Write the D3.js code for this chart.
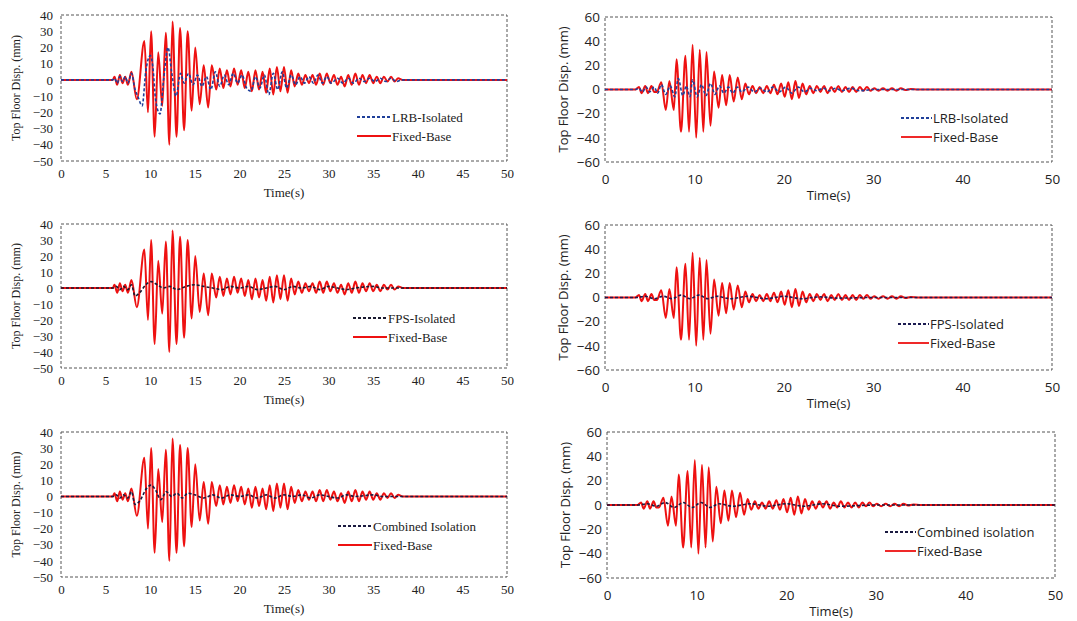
<!DOCTYPE html>
<html>
<head>
<meta charset="utf-8">
<script src="https://cdn.jsdelivr.net/npm/d3@7"></script>
<style>
  body { margin: 0; background: #fff; }
  svg { display: block; }
</style>
</head>
<body>
<div id="chart"></div>
<script>
// tick values
const timeTicksLeft = [0, 5, 10, 15, 20, 25, 30, 35, 40, 45, 50];
const timeTicksRight = [0, 10, 20, 30, 40, 50];
const dispTicksLeft = [40, 30, 20, 10, 0, -10, -20, -30, -40, -50];
const dispTicksRight = [60, 40, 20, 0, -20, -40, -60];

// [time (s), displacement (mm)] - turning points
const fixedLeft = [[0,0],[5.8,0],[6.0,2],[6.3,-3],[6.6,3],[6.9,-2],[7.2,2],[7.5,-3],[7.9,5],[8.5,-12],
  [9.35,24],[9.75,-20],[10.1,30],[10.5,-35],[10.9,17],[11.35,-16],[11.75,29],[12.15,-40],[12.5,36],
  [12.95,-35],[13.35,32],[13.8,-31],[14.2,30],[14.65,-19],[15.05,20],[15.55,-15],[16.0,9],[16.5,-17],
  [16.9,9],[17.4,-6],[17.8,7],[18.2,-5],[18.6,6],[19.0,-4],[19.4,7],[19.8,-3],[20.2,6],[20.6,-5],
  [21.0,5],[21.4,-7],[21.8,6],[22.2,-6],[22.6,5],[23.0,-8],[23.4,7],[23.8,-9],[24.2,8],[24.6,-7],
  [25.0,8],[25.4,-8],[25.8,6],[26.2,-4],[26.6,4],[27.0,-3],[27.4,3],[27.8,-2],[28.2,3],[28.6,-3],
  [29.0,4],[29.4,-3],[29.8,4],[30.2,-2],[30.6,3],[31.0,-3],[31.4,2],[31.8,-4],[32.2,3],[32.6,-3],
  [33.0,4],[33.4,-3],[33.8,3],[34.2,-2],[34.6,3],[35.0,-2],[35.4,2],[35.8,-2],[36.2,2],[36.6,-1],
  [37.0,2],[37.4,-1],[37.8,1],[38.3,0],[50,0]];
const lrbLeft = [[0,0],[5.8,0],[6.0,1],[6.3,-2],[6.6,2],[6.9,-1],[7.2,2],[7.5,-2],[7.9,4],[8.3,-6],
  [8.6,-10],[9.1,-16],[9.5,5],[10.0,15],[10.3,8],[10.6,-12],[11.1,-21],[11.5,0],[12.0,20],[12.4,5],
  [12.9,-10],[13.4,4],[13.8,-2],[14.3,4],[14.8,-3],[15.3,3],[15.8,-4],[16.3,2],[16.8,-6],[17.3,5],
  [17.8,-4],[18.3,3],[18.8,-3],[19.3,4],[19.8,-2],[20.3,3],[20.8,-5],[21.3,-7],[21.8,2],[22.3,-5],
  [22.8,3],[23.3,-9],[23.8,4],[24.3,-6],[24.8,5],[25.3,-5],[25.8,3],[26.3,-3],[26.8,2],[27.3,-2],
  [27.8,2],[28.3,-2],[28.8,3],[29.3,-2],[29.8,2],[30.3,-2],[31,1],[31.6,-2],[32.2,1],[32.8,-2],
  [33.4,1],[34,-1],[34.6,1],[35.2,-1],[35.8,1],[36.4,-1],[37,1],[37.6,-1],[38.2,0],[50,0]];
const fpsLeft = [[0,0],[5.8,0],[6.2,1],[6.6,-1],[7.0,1],[7.5,-1],[7.9,2],[8.3,-5],[8.8,-3],[9.5,2],
  [10.1,4],[10.8,2],[11.5,0],[12.2,1],[13,-1],[14,1],[15,2],[16,1],[17,0],[18,-1],[19,1],[20,0],
  [21,1],[22,-1],[23,0],[24,1],[25,-1],[26,1],[27,0],[28,1],[29,-1],[30,1],[31,0],[32,-1],[33,0],
  [35,1],[36,0],[50,0]];
const combinedLeft = [[0,0],[5.8,0],[6.2,1],[6.6,-1],[7.0,1],[7.5,-1],[7.9,3],[8.3,-5],[8.8,-3],
  [9.6,5],[10.1,7],[10.6,4],[11.2,-2],[11.8,3],[12.4,0],[13,2],[13.6,-1],[14.2,2],[15,1],[16,-1],
  [17,1],[18,-1],[19,1],[20,0],[21,1],[22,-1],[23,1],[24,-1],[25,1],[26,0],[27,1],[28,-1],[29,1],
  [30,0],[31,-1],[32,1],[33,0],[35,1],[36,0],[50,0]];

const fixedRight = [[0,0],[3.4,0],[3.8,2],[4.1,-3],[4.5,3],[4.8,-3],[5.2,3],[5.5,-2],[5.8,-2],
  [6.3,6],[6.8,-17],[7.2,7],[7.7,-17],[8.0,25],[8.5,-35],[9.0,28],[9.4,-35],[9.8,37],[10.2,-40],
  [10.6,33],[11.0,-35],[11.35,31],[11.8,-30],[12.2,15],[12.7,-15],[13.1,12],[13.55,-13],[13.95,12],
  [14.4,-10],[14.85,10],[15.3,-8],[15.7,5],[16.1,-4],[16.5,3],[16.9,-3],[17.3,2],[17.7,-3],[18.1,3],
  [18.5,-3],[18.9,4],[19.3,-4],[19.7,5],[20.1,-6],[20.5,6],[20.9,-8],[21.3,7],[21.7,-7],[22.1,5],
  [22.5,-4],[22.9,3],[23.3,-3],[23.7,3],[24.1,-2],[24.5,3],[24.9,-3],[25.3,2],[25.7,-2],[26.1,3],
  [26.5,-2],[26.9,2],[27.3,-2],[27.7,2],[28.1,-2],[28.5,2],[28.9,-1],[29.3,2],[29.7,-1],[30.1,1],
  [30.6,-1],[31.1,1],[31.6,-1],[32.1,1],[32.6,-1],[33.1,1],[33.6,-0.5],[34.2,0.5],[35,0],[50,0]];
const lrbRight = [[0,0],[3.4,0],[3.8,1],[4.2,-2],[4.6,2],[5,-2],[5.5,2],[5.9,-3],[6.3,4],[6.8,-4],
  [7.3,3],[7.8,-6],[8.2,9],[8.7,-5],[9.1,3],[9.5,-6],[9.8,8],[10.3,-6],[10.8,4],[11.3,-5],[11.8,5],
  [12.3,-4],[12.8,3],[13.3,-3],[13.8,2],[14.3,-3],[14.8,2],[15.3,-2],[16,2],[16.7,-2],[17.4,1],
  [18.1,-2],[18.8,2],[19.5,-2],[20.2,2],[20.9,-3],[21.6,2],[22.3,-2],[23,1],[23.7,-1],[24.4,1],
  [25.1,-1],[25.8,1],[26.5,-1],[27.5,1],[28.5,-1],[30,0],[50,0]];
const fpsRight = [[0,0],[3.5,0],[4.5,1],[5.5,-1],[6.5,1],[7.5,-1],[8.5,2],[9.5,-1],[10.5,2],
  [11.5,-1],[12.5,1],[14,-1],[16,1],[18,-1],[20,1],[22,-1],[24,0.5],[26,-0.5],[30,0],[50,0]];
const combinedRight = [[0,0],[3.5,0],[4.5,1],[5.5,-1],[6.5,2],[7.5,-2],[8.5,2],[9.5,-2],[10.5,2],
  [11.5,-2],[12.5,1],[14,-1],[16,1],[18,-1],[20,1],[22,-1],[24,1],[26,-1],[30,0],[50,0]];

const seriesNames = ["LRB-Isolated", "FPS-Isolated", "Combined Isolation", "Combined isolation", "Fixed-Base"];

const W = 1077, H = 621;
const svg = d3.select("#chart").append("svg").attr("width", W).attr("height", H);

const serif = "'Liberation Serif', 'Times New Roman', serif";
const sans = "'Open Sans', 'Noto Sans', sans-serif";

const panels = [
  { box: [61, 507, 15, 161], xt: timeTicksLeft, yt: dispTicksLeft, yd: [-50, 40], font: serif,
    iso: lrbLeft, isoName: seriesNames[0], isoColor: "#1f3f9a", leg: [357, 117] },
  { box: [605, 1052, 17, 162], xt: timeTicksRight, yt: dispTicksRight, yd: [-60, 60], font: sans,
    iso: lrbRight, isoName: seriesNames[0], isoColor: "#1f3f9a", leg: [901, 118] },
  { box: [61, 507, 224, 368], xt: timeTicksLeft, yt: dispTicksLeft, yd: [-50, 40], font: serif,
    iso: fpsLeft, isoName: seriesNames[1], isoColor: "#1a1a30", leg: [353, 318] },
  { box: [605, 1052, 225, 370], xt: timeTicksRight, yt: dispTicksRight, yd: [-60, 60], font: sans,
    iso: fpsRight, isoName: seriesNames[1], isoColor: "#1a1a50", leg: [898, 324] },
  { box: [61, 507, 432, 577], xt: timeTicksLeft, yt: dispTicksLeft, yd: [-50, 40], font: serif,
    iso: combinedLeft, isoName: seriesNames[2], isoColor: "#1a1a40", leg: [338, 526] },
  { box: [607, 1055, 432, 578], xt: timeTicksRight, yt: dispTicksRight, yd: [-60, 60], font: sans,
    iso: combinedRight, isoName: seriesNames[3], isoColor: "#1a1a40", leg: [885, 532] }
];

panels.forEach((p, i) => {
  const [x0, x1, y0, y1] = p.box;
  const isLeft = i % 2 === 0;
  const fixed = isLeft ? fixedLeft : fixedRight;
  const x = d3.scaleLinear().domain([0, 50]).range([x0, x1]);
  const y = d3.scaleLinear().domain(p.yd).range([y1, y0]);
  const g = svg.append("g");

  // dashed frame
  g.append("rect")
    .attr("x", x0).attr("y", y0)
    .attr("width", x1 - x0).attr("height", y1 - y0)
    .attr("fill", "none").attr("stroke", "#555")
    .attr("stroke-width", 1).attr("stroke-dasharray", "3,2");

  // axes, labels only
  const fs = isLeft ? 13 : 13.5;
  const xAxis = g.append("g")
    .attr("transform", "translate(0," + y1 + ")")
    .call(d3.axisBottom(x).tickValues(p.xt).tickSize(0).tickPadding(isLeft ? 8 : 12));
  const yAxis = g.append("g")
    .attr("transform", "translate(" + x0 + ",0)")
    .call(d3.axisLeft(y).tickValues(p.yt).tickSize(0).tickPadding(isLeft ? 8 : 5));
  [xAxis, yAxis].forEach(a => {
    a.select(".domain").remove();
    a.selectAll("text").attr("font-family", p.font).attr("font-size", fs).attr("fill", "#222");
  });

  const line = d3.line()
    .x(d => x(d[0]))
    .y(d => y(d[1]))
    .curve(d3.curveMonotoneX);

  g.append("path").datum(fixed)
    .attr("d", line).attr("fill", "none")
    .attr("stroke", "#ee1111").attr("stroke-width", 2);
  g.append("path").datum(p.iso)
    .attr("d", line).attr("fill", "none")
    .attr("stroke", p.isoColor).attr("stroke-width", 1.6)
    .attr("stroke-dasharray", "3,2");

  // axis titles
  g.append("text")
    .attr("transform", "translate(" + (x0 - (isLeft ? 41 : 37)) + "," + ((y0 + y1) / 2) + ") rotate(-90)")
    .attr("text-anchor", "middle")
    .attr("font-family", p.font).attr("font-size", isLeft ? 12 : 13)
    .attr("fill", "#222")
    .text("Top Floor Disp. (mm)");
  g.append("text")
    .attr("x", (x0 + x1) / 2).attr("y", y1 + (isLeft ? 36 : 38))
    .attr("text-anchor", "middle")
    .attr("font-family", p.font).attr("font-size", 13)
    .attr("fill", "#222")
    .text("Time(s)");

  // legend
  const [lx, ly] = p.leg;
  const ll = isLeft ? 34 : 31;
  g.append("line")
    .attr("x1", lx).attr("x2", lx + ll).attr("y1", ly).attr("y2", ly)
    .attr("stroke", p.isoColor).attr("stroke-width", 1.8).attr("stroke-dasharray", "3,2");
  g.append("text")
    .attr("x", lx + ll + 1).attr("y", ly).attr("dy", "0.35em")
    .attr("font-family", p.font).attr("font-size", 13).attr("fill", "#222")
    .text(p.isoName);
  g.append("line")
    .attr("x1", lx).attr("x2", lx + ll).attr("y1", ly + 19).attr("y2", ly + 19)
    .attr("stroke", "#ee1111").attr("stroke-width", 1.8);
  g.append("text")
    .attr("x", lx + ll + 1).attr("y", ly + 19).attr("dy", "0.35em")
    .attr("font-family", p.font).attr("font-size", 13).attr("fill", "#222")
    .text(seriesNames[4]);
});
</script>
</body>
</html>
